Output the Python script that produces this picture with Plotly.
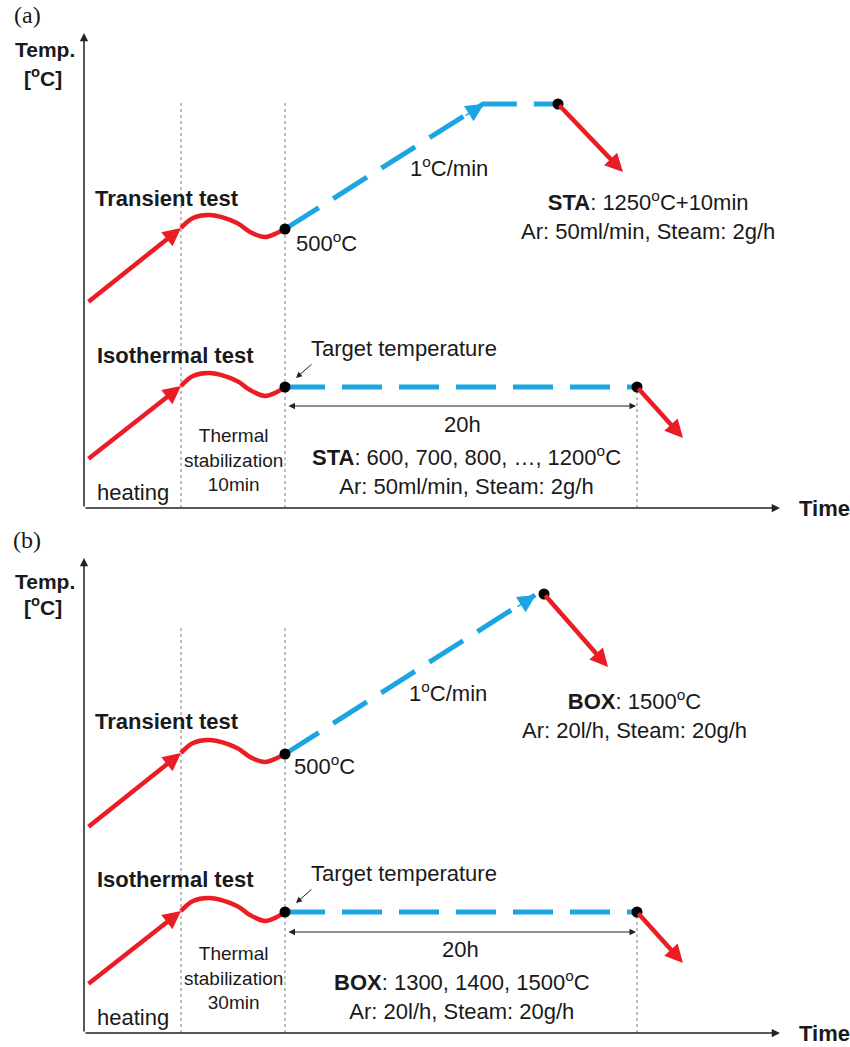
import plotly.graph_objects as go

# ---------------- schematic data (time and temperature in arbitrary units) ----------------
stab_start = 9.7          # start of thermal stabilization
stab_end = 20.1           # end of stabilization / start of test
iso_end = 55.3            # end of 20 h isothermal hold
axis_time_max = 69.6
axis_temp_max = 47.5
guide_top = 40.8

heat_time = [0.3, 9.7]
transient_heat_temp = [20.5, 28.0]
iso_heat_temp = [4.8, 12.2]

wave_time = [9.7, 10.9, 12.6, 15.3, 16.6, 18.1, 19.3, 20.1]
transient_wave_temp = [28.0, 29.0, 29.3, 28.5, 27.6, 27.1, 27.5, 27.9]
iso_wave_temp = [12.2, 13.2, 13.5, 12.7, 11.8, 11.2, 11.6, 12.1]

# transient ramp (1 C/min) : (a) STA with 10 min hold, (b) BOX
ramp_time_a = [20.1, 39.9, 47.4]
ramp_temp_a = [27.9, 40.4, 40.4]
ramp_time_b = [20.1, 45.1]
ramp_temp_b = [27.9, 43.8]
ramp_tip_a = [40.0, 40.4]
ramp_tip_b = [45.2, 43.8]
ramp_end_a = [47.4, 40.4]
ramp_end_b = [46.0, 43.9]
cool_end_a = [53.9, 33.6]
cool_end_b = [52.4, 36.6]

# isothermal hold
iso_time = [20.1, 55.3]
iso_temp = [12.1, 12.1]
iso_cool_end = [59.9, 7.0]
span_temp = [10.2, 10.1]

panel_labels = ["(a)", "(b)"]
stab_text = ["Thermal<br>stabilization<br>10min", "Thermal<br>stabilization<br>30min"]
transient_cond = ["<b>STA</b>: 1250<sup>o</sup>C+10min<br>Ar: 50ml/min, Steam: 2g/h",
                  "<b>BOX</b>: 1500<sup>o</sup>C<br>Ar: 20l/h, Steam: 20g/h"]
iso_cond = ["<b>STA</b>: 600, 700, 800, \u2026, 1200<sup>o</sup>C<br>Ar: 50ml/min, Steam: 2g/h",
            "<b>BOX</b>: 1300, 1400, 1500<sup>o</sup>C<br>Ar: 20l/h, Steam: 20g/h"]

RED = "#ec1c24"
BLUE = "#1ca5e0"
TXT = "#1a1a1a"
FONT = "Liberation Sans, Arial, sans-serif"
FS = 22
W, H = 850, 1047

fig = go.Figure()
annotations = []


def arrow(xr, yr, tip, tail, color, width, size, head=2, side="end"):
    annotations.append(dict(x=tip[0], y=tip[1], ax=tail[0], ay=tail[1], xref=xr, yref=yr, axref=xr, ayref=yr,
                            showarrow=True, arrowhead=head, startarrowhead=head, arrowside=side,
                            arrowsize=size, startarrowsize=size, arrowwidth=width, arrowcolor=color, text=""))


def add_panel(i, xr, yr, ramp_t, ramp_T, ramp_tip, ramp_end, cool_end, texts):
    # guides
    for xv, top in [(stab_start, guide_top), (stab_end, guide_top), (iso_end, iso_temp[1])]:
        fig.add_trace(go.Scatter(x=[xv, xv], y=[0, top], mode="lines", xaxis=xr, yaxis=yr,
                                 line=dict(color="#808080", width=1, dash="dot"), hoverinfo="skip"))
    # axes arrows
    arrow(xr, yr, (axis_time_max, 0), (0, 0), "#222", 1.5, 1.1)
    arrow(xr, yr, (0, axis_temp_max), (0, 0), "#222", 1.5, 1.1)
    # stabilization waves
    for wT in [transient_wave_temp, iso_wave_temp]:
        fig.add_trace(go.Scatter(x=wave_time, y=wT, mode="lines", xaxis=xr, yaxis=yr,
                                 line=dict(color=RED, width=4.5, shape="spline", smoothing=1.0), hoverinfo="skip"))
    # heating arrows
    for hT in [transient_heat_temp, iso_heat_temp]:
        arrow(xr, yr, (heat_time[1], hT[1]), (heat_time[0], hT[0]), RED, 4.5, 0.8)
    # blue ramp and isothermal hold
    fig.add_trace(go.Scatter(x=ramp_t, y=ramp_T, mode="lines", xaxis=xr, yaxis=yr,
                             line=dict(color=BLUE, width=5, dash="40px,17px"), hoverinfo="skip"))
    fig.add_trace(go.Scatter(x=iso_time, y=iso_temp, mode="lines", xaxis=xr, yaxis=yr,
                             line=dict(color=BLUE, width=5, dash="40px,17px"), hoverinfo="skip"))
    # blue arrow head on ramp (thin shaft, same head size)
    tx, tyy = ramp_tip
    arrow(xr, yr, (tx, tyy), (tx - 2.0, tyy - 1.26), BLUE, 1.5, 2.4)
    # cooling arrows
    arrow(xr, yr, cool_end, ramp_end, RED, 4.5, 0.8)
    arrow(xr, yr, iso_cool_end, (iso_time[1], iso_temp[1]), RED, 4.5, 0.8)
    # 20h span
    arrow(xr, yr, (iso_time[1] - 0.1, span_temp[i]), (iso_time[0] + 0.2, span_temp[i]), "#222", 1, 1.3,
          side="end+start")
    # target temperature pointer
    arrow(xr, yr, (21.2, 13.0), (22.9, 14.5), "#222", 1, 1.2)
    # dots
    fig.add_trace(go.Scatter(x=[stab_end, stab_end, ramp_end[0], iso_time[1]],
                             y=[transient_wave_temp[-1], iso_wave_temp[-1], ramp_end[1], iso_temp[1]],
                             mode="markers", xaxis=xr, yaxis=yr,
                             marker=dict(color="black", size=11), hoverinfo="skip"))
    # texts
    for txt, x, y, xa, size in texts:
        annotations.append(dict(x=x, y=y, xref=xr, yref=yr, text=txt, showarrow=False, xanchor=xa,
                                yanchor="middle", align="center", font=dict(family=FONT, size=size, color=TXT)))


texts_a = [
    ("<b>Transient test</b>", 8.25, 31.0, "center", FS),
    ("<b>Isothermal test</b>", 9.1, 15.3, "center", FS),
    ("500<sup>o</sup>C", 21.0, 26.6, "left", FS),
    ("1<sup>o</sup>C/min", 36.5, 34.1, "center", FS),
    (transient_cond[0], 56.4, 29.3, "center", FS),
    ("Target temperature", 22.5, 16.0, "left", FS),
    ("20h", 37.8, 8.4, "center", FS),
    (iso_cond[0], 38.2, 3.8, "center", FS),
    (stab_text[0], 14.9, 4.8, "center", 19),
    ("heating", 4.9, 1.6, "center", FS),
]
texts_b = [
    ("<b>Transient test</b>", 8.25, 31.2, "center", FS),
    ("<b>Isothermal test</b>", 9.1, 15.4, "center", FS),
    ("500<sup>o</sup>C", 20.8, 26.8, "left", FS),
    ("1<sup>o</sup>C/min", 36.35, 34.1, "center", FS),
    (transient_cond[1], 55.0, 31.9, "center", FS),
    ("Target temperature", 22.5, 16.0, "left", FS),
    ("20h", 37.6, 8.4, "center", FS),
    (iso_cond[1], 37.8, 3.8, "center", FS),
    (stab_text[1], 14.9, 5.5, "center", 19),
    ("heating", 4.9, 1.6, "center", FS),
]

add_panel(0, "x", "y", ramp_time_a, ramp_temp_a, ramp_tip_a, ramp_end_a, cool_end_a, texts_a)
add_panel(1, "x2", "y2", ramp_time_b, ramp_temp_b, ramp_tip_b, ramp_end_b, cool_end_b, texts_b)


# paper-level labels
def pap(px, py):
    return px / W, 1 - py / H


for lab, (px, py) in zip(panel_labels, [(12, 15), (11, 540)]):
    x, y = pap(px, py)
    annotations.append(dict(x=x, y=y, xref="paper", yref="paper", text=lab, showarrow=False,
                            xanchor="left", yanchor="middle",
                            font=dict(family="Liberation Serif, Times New Roman, serif", size=24, color=TXT)))
for (px1, py1), (px2, py2) in [((45, 49), (43, 77)), ((45, 581), (43, 606))]:
    x, y = pap(px1, py1)
    annotations.append(dict(x=x, y=y, xref="paper", yref="paper", text="<b>Temp.</b>", showarrow=False,
                            xanchor="center", yanchor="middle", font=dict(family=FONT, size=21, color=TXT)))
    x, y = pap(px2, py2)
    annotations.append(dict(x=x, y=y, xref="paper", yref="paper", text="<b>[<sup>o</sup>C]</b>", showarrow=False,
                            xanchor="center", yanchor="middle", font=dict(family=FONT, size=21, color=TXT)))
for py in [508, 1033]:
    x, y = pap(797, py)
    annotations.append(dict(x=x, y=y, xref="paper", yref="paper", text="<b>Time</b>", showarrow=False,
                            xanchor="left", yanchor="middle", font=dict(family=FONT, size=22, color=TXT)))

# axes: 1 unit = 10 px, origin at x=84 px, y=508 px (a) and 1033 px (b)
x0_px = 74
xdom = [x0_px / W, 1.0]
xrange = [-1, (W - 84) / 10.0]
ax_common = dict(visible=False, showgrid=False, zeroline=False, fixedrange=True)
fig.update_layout(
    width=W, height=H, margin=dict(l=0, r=0, t=0, b=0),
    paper_bgcolor="white", plot_bgcolor="white", showlegend=False,
    xaxis=dict(domain=xdom, range=xrange, anchor="y", **ax_common),
    yaxis=dict(domain=[1 - 518 / H, 1 - 20 / H], range=[-1, 48.8], anchor="x", **ax_common),
    xaxis2=dict(domain=xdom, range=xrange, anchor="y2", **ax_common),
    yaxis2=dict(domain=[1 - 1043 / H, 1 - 545 / H], range=[-1, 48.8], anchor="x2", **ax_common),
    annotations=annotations,
)

fig.write_html("out.html")
